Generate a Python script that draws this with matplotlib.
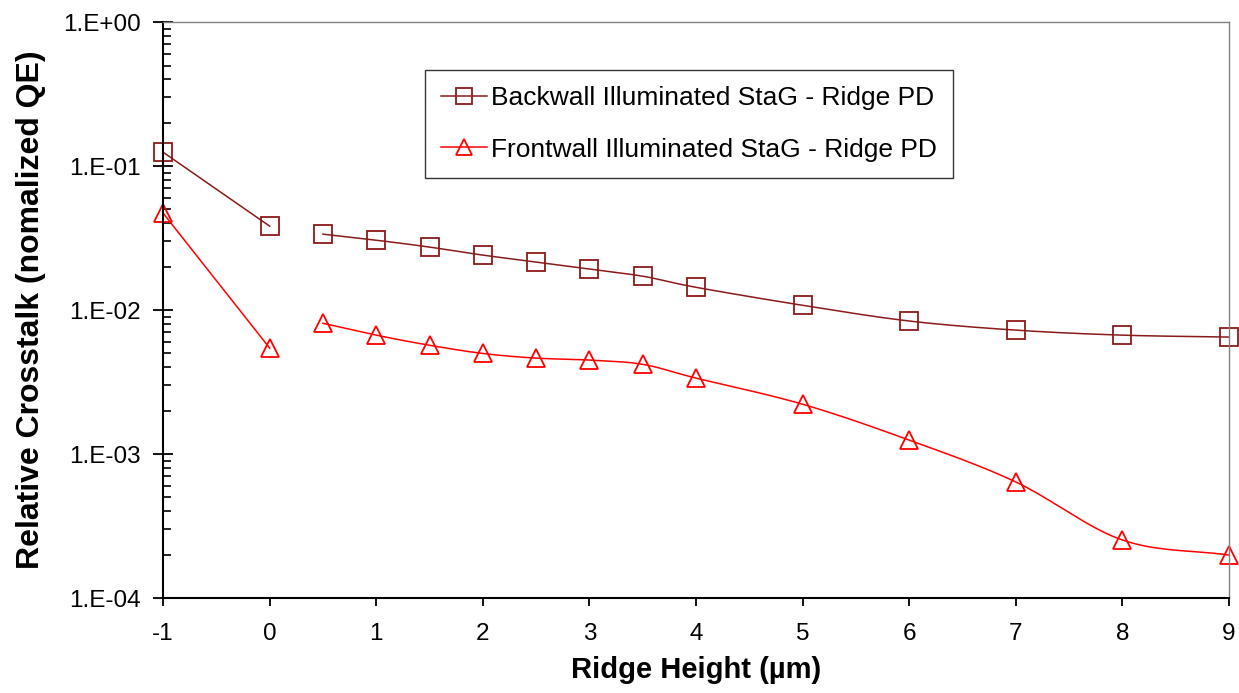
import numpy as np
import matplotlib
matplotlib.use("Agg")
import matplotlib.pyplot as plt
from matplotlib.ticker import LogLocator, FixedLocator, NullFormatter

plt.rcParams['font.family'] = ['Liberation Sans', 'DejaVu Sans']

# Data (two segments per series: x=-1..0 and x=0.5..9)
x_a = [-1, 0]
x_b = [0.5, 1, 1.5, 2, 2.5, 3, 3.5, 4, 5, 6, 7, 8, 9]
back_a = [0.125, 0.0383]
back_b = [0.0337, 0.0306, 0.0274, 0.0241, 0.0216, 0.0193, 0.0172, 0.0144,
          0.0108, 0.0084, 0.00726, 0.0067, 0.0065]
front_a = [0.0472, 0.00545]
front_b = [0.0081, 0.0067, 0.0057, 0.0050, 0.00464, 0.0045, 0.0042, 0.00337,
           0.00222, 0.00125, 0.00064, 0.000253, 0.000199]
x_ticks = [-1, 0, 1, 2, 3, 4, 5, 6, 7, 8, 9]
y_ticks = [1e-4, 1e-3, 1e-2, 1e-1, 1e0]
y_labels = ['1.E-04', '1.E-03', '1.E-02', '1.E-01', '1.E+00']
labels = ['Backwall Illuminated StaG - Ridge PD', 'Frontwall Illuminated StaG - Ridge PD']
colors = ['#8B1A1A', '#FF0000']


def smooth(xs, ys, n=20):
    """Catmull-Rom style smoothing in log-y space (render only)."""
    xs = np.asarray(xs, float)
    ly = np.log10(np.asarray(ys, float))
    px = np.concatenate([[2 * xs[0] - xs[1]], xs, [2 * xs[-1] - xs[-2]]])
    py = np.concatenate([[2 * ly[0] - ly[1]], ly, [2 * ly[-1] - ly[-2]]])
    ox, oy = [], []
    for i in range(1, len(px) - 2):
        p0x, p1x, p2x, p3x = px[i - 1:i + 3]
        p0y, p1y, p2y, p3y = py[i - 1:i + 3]
        c1x = p1x + (p2x - p0x) / 6
        c1y = p1y + (p2y - p0y) / 6
        c2x = p2x - (p3x - p1x) / 6
        c2y = p2y - (p3y - p1y) / 6
        t = np.linspace(0, 1, n, endpoint=(i == len(px) - 3))
        bx = (1 - t) ** 3 * p1x + 3 * (1 - t) ** 2 * t * c1x + 3 * (1 - t) * t ** 2 * c2x + t ** 3 * p2x
        by = (1 - t) ** 3 * p1y + 3 * (1 - t) ** 2 * t * c1y + 3 * (1 - t) * t ** 2 * c2y + t ** 3 * p2y
        ox.extend(bx)
        oy.extend(by)
    return np.array(ox), 10 ** np.array(oy)


fig = plt.figure(figsize=(12.39, 6.93), dpi=100)
ax = fig.add_axes([0.1316, 0.137, 0.8604, 0.831])
ax.set_yscale('log')

series = [(back_a, back_b, 's', 13), (front_a, front_b, '^', 13)]
for (ya, yb, mk, ms), c, lab in zip(series, colors, labels):
    ax.plot(x_a, ya, '-', color=c, lw=1.1)
    sx, sy = smooth(x_b, yb)
    ax.plot(sx, sy, '-', color=c, lw=1.1)
    ax.plot(x_a + x_b, ya + yb, linestyle='none', marker=mk, ms=ms,
            mfc='none', mec=c, mew=1.3, clip_on=False)
    ax.plot([], [], '-', color=c, lw=1.1, marker=mk, ms=ms, mfc='none', mec=c,
            mew=1.3, label=lab)

ax.set_xlim(-1, 9)
ax.set_ylim(1e-4, 1)
ax.xaxis.set_major_locator(FixedLocator(x_ticks))
ax.set_xticklabels([str(v) for v in x_ticks], fontsize=17.5)
ax.yaxis.set_major_locator(FixedLocator(y_ticks))
ax.set_yticklabels(y_labels, fontsize=17.5)
ax.yaxis.set_minor_locator(LogLocator(base=10, subs=np.arange(2, 10)))
ax.yaxis.set_minor_formatter(NullFormatter())
ax.tick_params(axis='y', which='major', direction='inout', length=14, width=1.3, pad=9)
ax.tick_params(axis='y', which='minor', direction='in', length=6, width=1.2)
ax.tick_params(axis='x', which='major', direction='out', length=6, width=1.3, pad=12)

for s in ['left', 'bottom']:
    ax.spines[s].set_linewidth(1.5)
    ax.spines[s].set_color('black')
for s in ['top', 'right']:
    ax.spines[s].set_linewidth(1.0)
    ax.spines[s].set_color('#808080')

ax.set_xlabel('Ridge Height (µm)', fontsize=21, fontweight='bold', labelpad=8)
ax.set_ylabel('Relative Crosstalk (nomalized QE)', fontsize=23, fontweight='bold', labelpad=12)

leg = ax.legend(loc='upper left', bbox_to_anchor=(0.2458, 0.9167), borderaxespad=0,
                fontsize=19, frameon=True, fancybox=False, edgecolor='black',
                handlelength=1.75, handletextpad=0.15, labelspacing=1.05,
                borderpad=0.6, markerscale=0.85)
leg.get_frame().set_linewidth(1.0)

fig.savefig('out.png', dpi=100)
